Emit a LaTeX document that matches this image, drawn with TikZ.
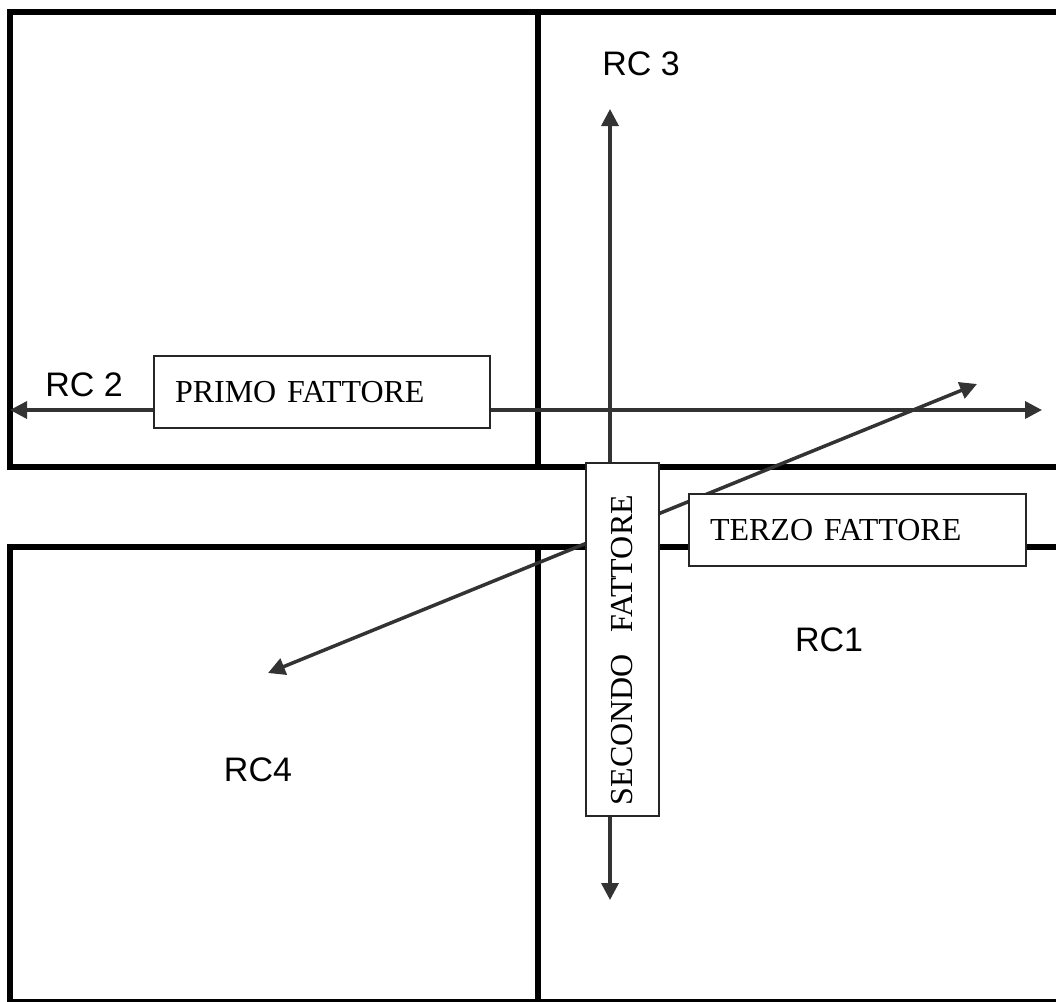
\documentclass[tikz,border=0pt]{standalone}
\usepackage{fontspec}
\setmainfont{Liberation Serif}
\newfontfamily\arialfont{Liberation Sans}
\usetikzlibrary{arrows.meta,positioning}
\definecolor{axis_gray}{RGB}{51,51,51}

\begin{document}
\begin{tikzpicture}[x=1pt, y=-1pt,
      frame/.style={draw=black, line width=6.5pt},
      axis/.style={draw=axis_gray, line width=3.5pt,
                   {Triangle[length=17pt,width=17pt]}-{Triangle[length=17pt,width=17pt]}},
      factor/.style={draw=black!85, fill=white, line width=1.8pt, font=\fontsize{32}{36}\selectfont,
                     align=left, inner xsep=21pt, inner ysep=0pt},
      rclabel/.style={font=\arialfont\fontsize{34}{38}\selectfont, inner sep=0pt}]
    \useasboundingbox (0,0) rectangle (1056,1001);
    % quadrants
    \draw[frame] (10,12) rectangle (538,467);
    \draw[frame] (538,12) rectangle (1070,467);
    \draw[frame] (10,547) rectangle (538,1002.5);
    \draw[frame] (538,547) rectangle (1070,1002.5);
    % axes ends
    \coordinate (west) at (10,410);
    \coordinate (east) at (1042,410);
    \coordinate (north) at (610,109);
    \coordinate (south) at (610,900);
    \coordinate (sw) at (268,673);
    \coordinate (ne) at (977,384);
    \draw[axis] (west) -- (east);
    \draw[axis] (south) -- (north);
    \draw[axis] (sw) -- (ne);
    % factor boxes
    \node[factor, text width=294pt, minimum height=72pt] (primo) at (322,392) {PRIMO FATTORE};
    \node[factor, text width=295pt, minimum height=72pt] (terzo) at (857.5,530) {TERZO FATTORE};
    \node[factor, rotate=90, inner xsep=11pt, text width=331pt, minimum height=73pt]
      (secondo) at (622.5,639.5) {SECONDO\ \ FATTORE};
    % quadrant names
    \node[rclabel] (rc3) at (641,64) {RC 3};
    \node[rclabel] (rc2) at (84,385) {RC 2};
    \node[rclabel] (rc1) at (829,640) {RC1};
    \node[rclabel] (rc4) at (258,770) {RC4};
  \end{tikzpicture}
\end{document}
